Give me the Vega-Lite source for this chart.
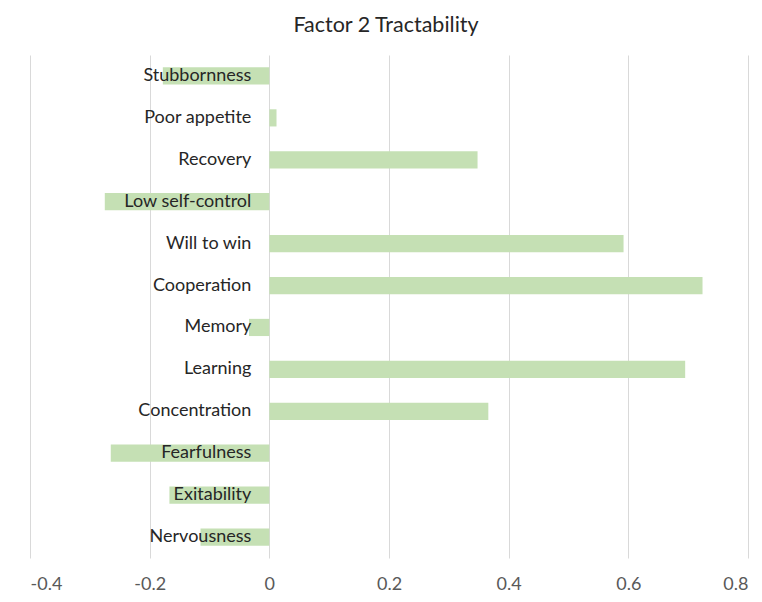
{
  "$schema": "https://vega.github.io/schema/vega-lite/v6.json",
  "autosize": "none",
  "width": 718,
  "height": 503,
  "padding": {"left": 30, "top": 55, "right": 14, "bottom": 44},
  "background": "white",
  "title": {
    "text": "Factor 2 Tractability",
    "font": "Lato",
    "fontSize": 21.5,
    "fontWeight": "normal",
    "color": "#262626",
    "anchor": "middle",
    "offset": 19,
    "dx": -3
  },
  "config": {"view": {"stroke": null}},
  "data": {
    "values": [
      {"trait": "Stubbornness", "loading": -0.178},
      {"trait": "Poor appetite", "loading": 0.012},
      {"trait": "Recovery", "loading": 0.348},
      {"trait": "Low self-control", "loading": -0.275},
      {"trait": "Will to win", "loading": 0.592},
      {"trait": "Cooperation", "loading": 0.724},
      {"trait": "Memory", "loading": -0.034},
      {"trait": "Learning", "loading": 0.695},
      {"trait": "Concentration", "loading": 0.366},
      {"trait": "Fearfulness", "loading": -0.265},
      {"trait": "Exitability", "loading": -0.167},
      {"trait": "Nervousness", "loading": -0.115}
    ]
  },
  "encoding": {
    "y": {
      "field": "trait",
      "type": "nominal",
      "sort": null,
      "scale": {"paddingInner": 0.59, "paddingOuter": 0.295},
      "axis": null
    }
  },
  "layer": [
    {
      "mark": {"type": "bar", "color": "#C5E0B4"},
      "encoding": {
        "x": {
          "field": "loading",
          "type": "quantitative",
          "scale": {"domain": [-0.4, 0.8], "nice": false, "zero": false},
          "axis": {
            "title": null,
            "values": [-0.4, -0.2, 0, 0.2, 0.4, 0.6, 0.8],
            "format": ".1~f",
            "labelExpr": "replace(datum.label, '\u2212', '-')",
            "domain": false,
            "ticks": false,
            "grid": true,
            "gridColor": "#D9D9D9",
            "gridWidth": 1,
            "labelFont": "Lato",
            "labelFontSize": 18,
            "labelColor": "#595959",
            "labelPadding": 17
          }
        }
      }
    },
    {
      "mark": {
        "type": "text",
        "align": "right",
        "baseline": "middle",
        "dx": -18,
        "font": "Lato",
        "fontSize": 18,
        "color": "#262626"
      },
      "encoding": {
        "x": {"datum": 0, "type": "quantitative"},
        "text": {"field": "trait"}
      }
    }
  ]
}
